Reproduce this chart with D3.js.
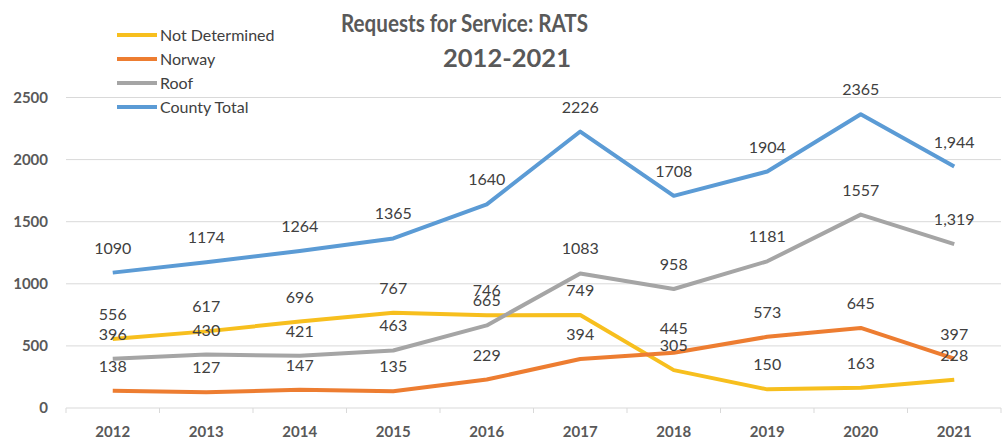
<!DOCTYPE html>
<html>
<head>
<meta charset="utf-8">
<script src="https://cdn.jsdelivr.net/npm/d3@7"></script>
<style>
  html, body { margin: 0; padding: 0; background: #fff; }
  svg { display: block; }
  text { font-family: Lato, "Open Sans", sans-serif; }
</style>
</head>
<body>
<svg id="chart" width="1006" height="441"></svg>
<script>
// Requests for service by type of rat, 2012-2021
const years = ["2012", "2013", "2014", "2015", "2016", "2017", "2018", "2019", "2020", "2021"];
const notDetermined = [556, 617, 696, 767, 746, 749, 305, 150, 163, 228];
const norway        = [138, 127, 147, 135, 229, 394, 445, 573, 645, 397];
const roof          = [396, 430, 421, 463, 665, 1083, 958, 1181, 1557, 1319];
const countyTotal   = [1090, 1174, 1264, 1365, 1640, 2226, 1708, 1904, 2365, 1944];
const yTicks = [0, 500, 1000, 1500, 2000, 2500];
const commaYears = ["2021"]; // the latest year's labels use a thousands separator

const seriesNames  = ["Not Determined", "Norway", "Roof", "County Total"];
const seriesValues = [notDetermined, norway, roof, countyTotal];
const seriesColors = ["#F7BF1E", "#ED7D31", "#A5A5A5", "#5B9BD5"];

const series = seriesNames.map((name, i) => ({
  name, color: seriesColors[i],
  points: years.map((y, j) => ({ year: y, value: seriesValues[i][j] }))
}));

const svg = d3.select("#chart");
const plot = { left: 66, right: 1001, top: 97.5, bottom: 408 };

const x = d3.scaleBand().domain(years).range([plot.left, plot.right]).padding(0);
const y = d3.scaleLinear().domain([0, 2500]).range([plot.bottom, plot.top]);
const cx = d => x(d) + x.bandwidth() / 2;

// Horizontal gridlines
svg.append("g")
  .selectAll("line")
  .data(yTicks.filter(t => t > 0))
  .join("line")
  .attr("x1", plot.left).attr("x2", plot.right)
  .attr("y1", d => y(d)).attr("y2", d => y(d))
  .attr("stroke", "#d9d9d9").attr("stroke-width", 1);

// Y axis labels
const yAxis = svg.append("g")
  .attr("transform", `translate(${plot.left},0)`)
  .call(d3.axisLeft(y).tickValues(yTicks).tickFormat(d3.format("d")).tickSize(0).tickPadding(18));
yAxis.select(".domain").remove();
yAxis.selectAll("text")
  .attr("font-family", "Lato, sans-serif")
  .attr("font-size", 15).attr("font-weight", "bold").attr("fill", "#595959");

// X axis: baseline with category-boundary ticks
const xAxis = svg.append("g").attr("transform", `translate(0,${plot.bottom})`);
xAxis.append("line")
  .attr("x1", plot.left).attr("x2", plot.right)
  .attr("stroke", "#d9d9d9").attr("stroke-width", 1);
const boundaries = years.map(d => x(d)).concat([x(years[years.length - 1]) + x.bandwidth()]);
xAxis.selectAll("line.tick")
  .data(boundaries)
  .join("line").attr("class", "tick")
  .attr("x1", d => d).attr("x2", d => d)
  .attr("y1", 0).attr("y2", 5)
  .attr("stroke", "#d9d9d9");
xAxis.selectAll("text")
  .data(years)
  .join("text")
  .attr("x", d => cx(d)).attr("y", 29)
  .attr("text-anchor", "middle")
  .attr("font-size", 15).attr("font-weight", "bold").attr("fill", "#595959")
  .text(d => d);

// Lines
const line = d3.line().x(d => cx(d.year)).y(d => y(d.value));
svg.append("g")
  .selectAll("path")
  .data(series)
  .join("path")
  .attr("d", d => line(d.points))
  .attr("fill", "none")
  .attr("stroke", d => d.color)
  .attr("stroke-width", 4)
  .attr("stroke-linejoin", "round")
  .attr("stroke-linecap", "butt");

// Data labels above each point
const plain = d3.format("d"), comma = d3.format(",");
svg.append("g")
  .selectAll("g")
  .data(series)
  .join("g")
  .selectAll("text")
  .data(d => d.points)
  .join("text")
  .attr("x", d => cx(d.year))
  .attr("y", d => y(d.value) - 19)
  .attr("text-anchor", "middle")
  .attr("font-size", 16).attr("fill", "#404040")
  .text(d => commaYears.includes(d.year) ? comma(d.value) : plain(d.value));

// Title
const title = svg.append("g").attr("fill", "#595959").attr("font-weight", "bold").attr("font-size", 24);
title.append("text").attr("x", 464.5).attr("y", 32).attr("text-anchor", "middle")
  .attr("textLength", 247).attr("lengthAdjust", "spacingAndGlyphs")
  .text("Requests for Service: RATS");
title.append("text").attr("x", 507).attr("y", 67).attr("text-anchor", "middle")
  .attr("textLength", 128).attr("lengthAdjust", "spacingAndGlyphs")
  .text("2012-2021");

// Legend
const legend = svg.append("g")
  .selectAll("g")
  .data(series)
  .join("g")
  .attr("transform", (d, i) => `translate(117,${35 + i * 24})`);
legend.append("line")
  .attr("x1", 0).attr("x2", 40)
  .attr("stroke", d => d.color).attr("stroke-width", 4);
legend.append("text")
  .attr("x", 43).attr("dy", "0.35em")
  .attr("font-size", 16).attr("fill", "#404040")
  .text(d => d.name);
</script>
</body>
</html>
